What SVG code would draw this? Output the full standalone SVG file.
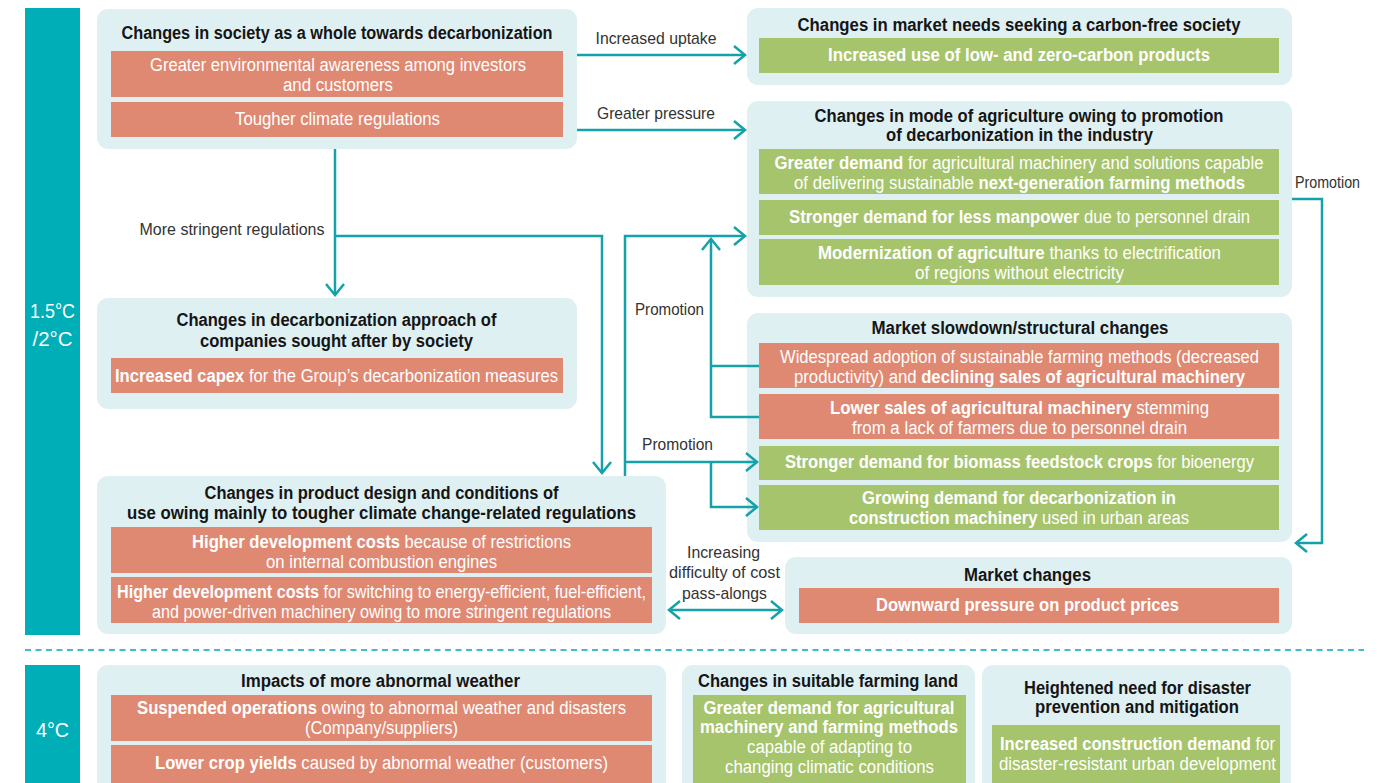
<svg xmlns="http://www.w3.org/2000/svg" width="1389" height="783" viewBox="0 0 1389 783">
<style>
text{font-family:"Liberation Sans Narrow","Liberation Sans",Arial,sans-serif;font-size:18px;text-anchor:middle}
.t{font-weight:bold;fill:#151515}
.w{fill:#ffffff}
.b{font-weight:bold}
.l{fill:#333333;font-size:17px}
.bar{fill:#00AEB8}
.box{fill:#DFF0F3}
.sal{fill:#DF8872}
.grn{fill:#A6C46B}
.tw{fill:#ffffff;font-size:21px}
.c{fill:none;stroke:#14A2A9;stroke-width:2.5}
</style>
<defs>
<marker id="ah" viewBox="-14 -12 16 24" refX="0" refY="0" markerWidth="16" markerHeight="24" markerUnits="userSpaceOnUse" orient="auto-start-reverse">
<path d="M-11,-9 L0,0 L-11,9" fill="none" stroke="#14A2A9" stroke-width="2.5"/>
</marker>
</defs>
<rect width="1389" height="783" fill="#ffffff"/>

<g id="scenario-bars">
<rect class="bar" x="25" y="8" width="55" height="627"/>
<text class="tw" x="52.5" y="318" textLength="45" lengthAdjust="spacingAndGlyphs">1.5°C</text>
<text class="tw" x="52.5" y="346" textLength="40" lengthAdjust="spacingAndGlyphs">/2°C</text>
<rect class="bar" x="25" y="665" width="55" height="125"/>
<text class="tw" x="52.5" y="737" textLength="33" lengthAdjust="spacingAndGlyphs">4°C</text>
<line x1="25" y1="650" x2="1364" y2="650" stroke="#3DBFC7" stroke-width="2" stroke-dasharray="6 4.5"/>
</g>

<g id="society">
<rect class="box" x="97" y="9" width="480" height="140" rx="11"/>
<text class="t" x="337" y="39" textLength="431" lengthAdjust="spacingAndGlyphs">Changes in society as a whole towards decarbonization</text>
<rect class="sal" x="111" y="51" width="452" height="46"/>
<text class="w" x="338" y="71" textLength="376" lengthAdjust="spacingAndGlyphs">Greater environmental awareness among investors</text>
<text class="w" x="338" y="91" textLength="110" lengthAdjust="spacingAndGlyphs">and customers</text>
<rect class="sal" x="111" y="102" width="452" height="35"/>
<text class="w" x="337.5" y="125" textLength="205" lengthAdjust="spacingAndGlyphs">Tougher climate regulations</text>
</g>

<g id="market-needs">
<rect class="box" x="747" y="8" width="545" height="77" rx="11"/>
<text class="t" x="1019" y="31" textLength="443" lengthAdjust="spacingAndGlyphs">Changes in market needs seeking a carbon-free society</text>
<rect class="grn" x="759" y="38" width="520" height="35"/>
<text class="w b" x="1019" y="61" textLength="382" lengthAdjust="spacingAndGlyphs">Increased use of low- and zero-carbon products</text>
</g>

<g id="agriculture-mode">
<rect class="box" x="747" y="101" width="545" height="196" rx="11"/>
<text class="t" x="1019" y="122" textLength="409" lengthAdjust="spacingAndGlyphs">Changes in mode of agriculture owing to promotion</text>
<text class="t" x="1019.5" y="141" textLength="267" lengthAdjust="spacingAndGlyphs">of decarbonization in the industry</text>
<rect class="grn" x="759" y="149" width="520" height="45"/>
<text class="w" x="1019" y="169" textLength="489" lengthAdjust="spacingAndGlyphs"><tspan class="b">Greater demand</tspan> for agricultural machinery and solutions capable</text>
<text class="w" x="1019.5" y="189" textLength="451" lengthAdjust="spacingAndGlyphs">of delivering sustainable <tspan class="b">next-generation farming methods</tspan></text>
<rect class="grn" x="759" y="200" width="520" height="35"/>
<text class="w" x="1019.5" y="223" textLength="461" lengthAdjust="spacingAndGlyphs"><tspan class="b">Stronger demand for less manpower</tspan> due to personnel drain</text>
<rect class="grn" x="759" y="239" width="520" height="46"/>
<text class="w" x="1019.5" y="259" textLength="403" lengthAdjust="spacingAndGlyphs"><tspan class="b">Modernization of agriculture</tspan> thanks to electrification</text>
<text class="w" x="1019.5" y="279" textLength="209" lengthAdjust="spacingAndGlyphs">of regions without electricity</text>
</g>

<g id="decarbonization-approach">
<rect class="box" x="97" y="298" width="480" height="111" rx="11"/>
<text class="t" x="336.5" y="326" textLength="320" lengthAdjust="spacingAndGlyphs">Changes in decarbonization approach of</text>
<text class="t" x="336.5" y="347" textLength="273" lengthAdjust="spacingAndGlyphs">companies sought after by society</text>
<rect class="sal" x="111" y="358" width="452" height="35"/>
<text class="w" x="336.5" y="382" textLength="443" lengthAdjust="spacingAndGlyphs"><tspan class="b">Increased capex</tspan> for the Group’s decarbonization measures</text>
</g>

<g id="market-slowdown">
<rect class="box" x="747" y="313" width="545" height="229" rx="11"/>
<text class="t" x="1020" y="334" textLength="297" lengthAdjust="spacingAndGlyphs">Market slowdown/structural changes</text>
<rect class="sal" x="759" y="343" width="520" height="45"/>
<text class="w" x="1019.5" y="363" textLength="479" lengthAdjust="spacingAndGlyphs">Widespread adoption of sustainable farming methods (decreased</text>
<text class="w" x="1019.5" y="383" textLength="451" lengthAdjust="spacingAndGlyphs">productivity) and <tspan class="b">declining sales of agricultural machinery</tspan></text>
<rect class="sal" x="759" y="394" width="520" height="45"/>
<text class="w" x="1019.5" y="414" textLength="379" lengthAdjust="spacingAndGlyphs"><tspan class="b">Lower sales of agricultural machinery</tspan> stemming</text>
<text class="w" x="1019.5" y="434" textLength="335" lengthAdjust="spacingAndGlyphs">from a lack of farmers due to personnel drain</text>
<rect class="grn" x="759" y="446" width="520" height="34"/>
<text class="w" x="1019.5" y="468" textLength="469" lengthAdjust="spacingAndGlyphs"><tspan class="b">Stronger demand for biomass feedstock crops</tspan> for bioenergy</text>
<rect class="grn" x="759" y="485" width="520" height="45"/>
<text class="w b" x="1019" y="504" textLength="314" lengthAdjust="spacingAndGlyphs">Growing demand for decarbonization in</text>
<text class="w" x="1019" y="524" textLength="340" lengthAdjust="spacingAndGlyphs"><tspan class="b">construction machinery</tspan> used in urban areas</text>
</g>

<g id="product-design">
<rect class="box" x="97" y="476" width="569" height="158" rx="11"/>
<text class="t" x="381.5" y="499" textLength="354" lengthAdjust="spacingAndGlyphs">Changes in product design and conditions of</text>
<text class="t" x="381.5" y="519" textLength="509" lengthAdjust="spacingAndGlyphs">use owing mainly to tougher climate change-related regulations</text>
<rect class="sal" x="111" y="527" width="541" height="46"/>
<text class="w" x="381.5" y="548" textLength="379" lengthAdjust="spacingAndGlyphs"><tspan class="b">Higher development costs</tspan> because of restrictions</text>
<text class="w" x="381.5" y="568" textLength="231" lengthAdjust="spacingAndGlyphs">on internal combustion engines</text>
<rect class="sal" x="111" y="577" width="541" height="46"/>
<text class="w" x="381.5" y="598" textLength="529" lengthAdjust="spacingAndGlyphs"><tspan class="b">Higher development costs</tspan> for switching to energy-efficient, fuel-efficient,</text>
<text class="w" x="381.5" y="618" textLength="459" lengthAdjust="spacingAndGlyphs">and power-driven machinery owing to more stringent regulations</text>
</g>

<g id="market-changes">
<rect class="box" x="785" y="557" width="507" height="77" rx="11"/>
<text class="t" x="1027.5" y="581" textLength="127" lengthAdjust="spacingAndGlyphs">Market changes</text>
<rect class="sal" x="799" y="588" width="480" height="35"/>
<text class="w b" x="1027.5" y="611" textLength="303" lengthAdjust="spacingAndGlyphs">Downward pressure on product prices</text>
</g>

<g id="abnormal-weather">
<rect class="box" x="97" y="665" width="569" height="130" rx="11"/>
<text class="t" x="380.5" y="687" textLength="279" lengthAdjust="spacingAndGlyphs">Impacts of more abnormal weather</text>
<rect class="sal" x="111" y="695" width="541" height="46"/>
<text class="w" x="381.5" y="714" textLength="489" lengthAdjust="spacingAndGlyphs"><tspan class="b">Suspended operations</tspan> owing to abnormal weather and disasters</text>
<text class="w" x="381.5" y="734" textLength="153" lengthAdjust="spacingAndGlyphs">(Company/suppliers)</text>
<rect class="sal" x="111" y="745" width="541" height="45"/>
<text class="w" x="381.5" y="769" textLength="453" lengthAdjust="spacingAndGlyphs"><tspan class="b">Lower crop yields</tspan> caused by abnormal weather (customers)</text>
</g>

<g id="farming-land">
<rect class="box" x="682" y="665" width="293" height="130" rx="11"/>
<text class="t" x="828" y="687" textLength="260" lengthAdjust="spacingAndGlyphs">Changes in suitable farming land</text>
<rect class="grn" x="693" y="695" width="273" height="95"/>
<text class="w b" x="829" y="714" textLength="251" lengthAdjust="spacingAndGlyphs">Greater demand for agricultural</text>
<text class="w b" x="829" y="733" textLength="258" lengthAdjust="spacingAndGlyphs">machinery and farming methods</text>
<text class="w" x="829.5" y="753" textLength="165" lengthAdjust="spacingAndGlyphs">capable of adapting to</text>
<text class="w" x="829.5" y="773" textLength="209" lengthAdjust="spacingAndGlyphs">changing climatic conditions</text>
</g>

<g id="disaster-prevention">
<rect class="box" x="982" y="665" width="309" height="130" rx="11"/>
<text class="t" x="1137.5" y="694" textLength="227" lengthAdjust="spacingAndGlyphs">Heightened need for disaster</text>
<text class="t" x="1137" y="713" textLength="204" lengthAdjust="spacingAndGlyphs">prevention and mitigation</text>
<rect class="grn" x="992" y="725" width="288" height="65"/>
<text class="w" x="1137.5" y="750" textLength="275" lengthAdjust="spacingAndGlyphs"><tspan class="b">Increased construction demand</tspan> for</text>
<text class="w" x="1137.5" y="770" textLength="277" lengthAdjust="spacingAndGlyphs">disaster-resistant urban development</text>
</g>

<g id="connectors">
<path class="c" d="M577,55 H745" marker-end="url(#ah)"/>
<path class="c" d="M577,130 H745" marker-end="url(#ah)"/>
<path class="c" d="M335,149 V295" marker-end="url(#ah)"/>
<path class="c" d="M335,236 H602 V473" marker-end="url(#ah)"/>
<path class="c" d="M625,476 V236 H745" marker-end="url(#ah)"/>
<path class="c" d="M759,417 H711 V239" marker-end="url(#ah)"/>
<path class="c" d="M759,366 H711"/>
<path class="c" d="M625,462 H757" marker-end="url(#ah)"/>
<path class="c" d="M711,462 V507 H757" marker-end="url(#ah)"/>
<path class="c" d="M1292,199 H1322 V543 H1296" marker-end="url(#ah)"/>
<path class="c" d="M669,610 H782" marker-start="url(#ah)" marker-end="url(#ah)"/>
<text class="l" x="656" y="44" textLength="121" lengthAdjust="spacingAndGlyphs">Increased uptake</text>
<text class="l" x="656" y="119" textLength="118" lengthAdjust="spacingAndGlyphs">Greater pressure</text>
<text class="l" x="232" y="235" textLength="185" lengthAdjust="spacingAndGlyphs">More stringent regulations</text>
<text class="l" x="669.5" y="315" textLength="69" lengthAdjust="spacingAndGlyphs">Promotion</text>
<text class="l" x="677.5" y="450" textLength="71" lengthAdjust="spacingAndGlyphs">Promotion</text>
<text class="l" x="1327.5" y="188" textLength="65" lengthAdjust="spacingAndGlyphs">Promotion</text>
<text class="l" x="723.5" y="558" textLength="73" lengthAdjust="spacingAndGlyphs">Increasing</text>
<text class="l" x="724.5" y="578" textLength="111" lengthAdjust="spacingAndGlyphs">difficulty of cost</text>
<text class="l" x="724.5" y="599" textLength="85" lengthAdjust="spacingAndGlyphs">pass-alongs</text>
</g>
</svg>
